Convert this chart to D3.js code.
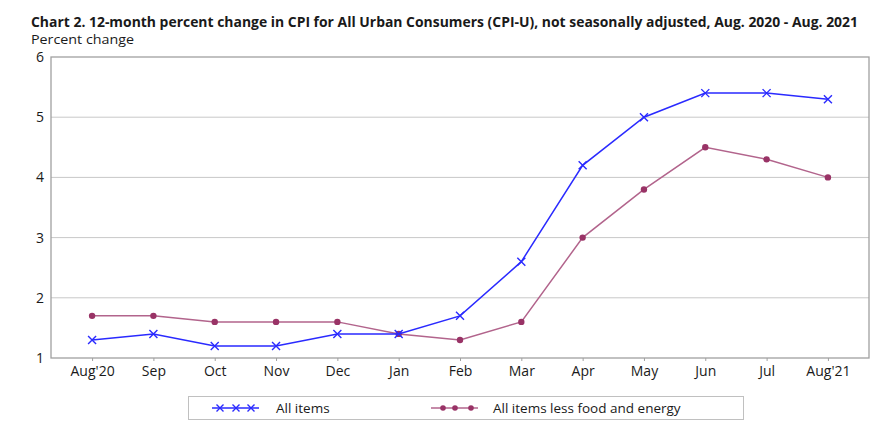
<!DOCTYPE html>
<html>
<head>
<meta charset="utf-8">
<script src="https://cdn.jsdelivr.net/npm/d3@7"></script>
<style>
  body { margin: 0; background: #fff; }
  text { font-family: "Open Sans", "DejaVu Sans", sans-serif; fill: #1a1a1a; }
</style>
</head>
<body>
<svg id="chart" width="876" height="433"></svg>
<script>
// data
const months = ["Aug'20", "Sep", "Oct", "Nov", "Dec", "Jan", "Feb", "Mar", "Apr", "May", "Jun", "Jul", "Aug'21"];
const allItems = [1.3, 1.4, 1.2, 1.2, 1.4, 1.4, 1.7, 2.6, 4.2, 5.0, 5.4, 5.4, 5.3];
const coreItems = [1.7, 1.7, 1.6, 1.6, 1.6, 1.4, 1.3, 1.6, 3.0, 3.8, 4.5, 4.3, 4.0];
const yTicks = [1, 2, 3, 4, 5, 6];

const svg = d3.select("#chart");
const margin = { left: 51, top: 57, right: 869, bottom: 358 };

const x = d3.scalePoint()
	.domain(months)
	.range([margin.left, margin.right])
	.padding(0.67);

const y = d3.scaleLinear()
	.domain([1, 6])
	.range([margin.bottom, margin.top]);

// title
svg.append("text")
	.attr("x", 31).attr("y", 27)
	.attr("font-size", 14).attr("font-weight", "bold")
	.attr("textLength", 827).attr("lengthAdjust", "spacingAndGlyphs")
	.text("Chart 2. 12-month percent change in CPI for All Urban Consumers (CPI-U), not seasonally adjusted, Aug. 2020 - Aug. 2021");

svg.append("text")
	.attr("x", 31).attr("y", 44)
	.attr("font-size", 13.5)
	.attr("textLength", 103).attr("lengthAdjust", "spacingAndGlyphs")
	.text("Percent change");

// grid lines
svg.append("g")
	.selectAll("line")
	.data(yTicks.slice(1, -1))
	.join("line")
	.attr("x1", margin.left).attr("x2", margin.right)
	.attr("y1", d => y(d)).attr("y2", d => y(d))
	.attr("stroke", "#c8c8c8").attr("stroke-width", 1);

// plot border
svg.append("rect")
	.attr("x", margin.left).attr("y", margin.top)
	.attr("width", margin.right - margin.left)
	.attr("height", margin.bottom - margin.top)
	.attr("fill", "none").attr("stroke", "#a0a0a0").attr("stroke-width", 1.3);

// y axis labels
const yAxis = svg.append("g")
	.attr("transform", `translate(${margin.left},0)`)
	.call(d3.axisLeft(y).tickValues(yTicks).tickSize(0).tickPadding(7).tickFormat(d3.format("d")));
yAxis.select(".domain").remove();
yAxis.selectAll("text").attr("font-size", 14).attr("font-family", "Open Sans").attr("fill", "#1a1a1a");

// x axis labels
const xAxis = svg.append("g")
	.attr("transform", `translate(0,${margin.bottom})`)
	.call(d3.axisBottom(x).tickSize(3).tickPadding(5));
xAxis.select(".domain").remove();
xAxis.selectAll("line").attr("stroke", "#a0a0a0");
xAxis.selectAll("text").attr("font-size", 14).attr("font-family", "Open Sans").attr("fill", "#1a1a1a");

const line = d3.line()
	.x((d, i) => x(months[i]))
	.y(d => y(d));

// core series
svg.append("path")
	.datum(coreItems)
	.attr("d", line)
	.attr("fill", "none").attr("stroke", "#b2648c").attr("stroke-width", 1.5);
svg.append("g")
	.selectAll("circle")
	.data(coreItems)
	.join("circle")
	.attr("cx", (d, i) => x(months[i])).attr("cy", d => y(d))
	.attr("r", 3.2).attr("fill", "#993366");

// all items series
svg.append("path")
	.datum(allItems)
	.attr("d", line)
	.attr("fill", "none").attr("stroke", "#2a2aff").attr("stroke-width", 1.5);

function cross(g, cx, cy, s, color) {
	g.append("path")
		.attr("d", `M${cx - s},${cy - s}L${cx + s},${cy + s}M${cx - s},${cy + s}L${cx + s},${cy - s}`)
		.attr("stroke", color).attr("stroke-width", 1.4).attr("fill", "none");
}
const crosses = svg.append("g");
allItems.forEach((d, i) => cross(crosses, x(months[i]), y(d), 4, "#2a2aff"));

// legend
const legend = svg.append("g");
legend.append("rect")
	.attr("x", 188.5).attr("y", 396.5).attr("width", 555).attr("height", 23)
	.attr("fill", "#fff").attr("stroke", "#c0c0c0");

legend.append("line")
	.attr("x1", 212).attr("x2", 259).attr("y1", 408).attr("y2", 408)
	.attr("stroke", "#2a2aff").attr("stroke-width", 1.5);
[220, 236, 251].forEach(cx => cross(legend, cx, 408, 3.5, "#2a2aff"));
legend.append("text")
	.attr("x", 276).attr("y", 413).attr("font-size", 13.5)
	.text("All items");

legend.append("line")
	.attr("x1", 431).attr("x2", 478).attr("y1", 408).attr("y2", 408)
	.attr("stroke", "#b2648c").attr("stroke-width", 1.5);
[443, 455, 471].forEach(cx => legend.append("circle")
	.attr("cx", cx).attr("cy", 408).attr("r", 2.8).attr("fill", "#993366"));
legend.append("text")
	.attr("x", 493).attr("y", 413).attr("font-size", 13.5)
	.text("All items less food and energy");
</script>
</body>
</html>
